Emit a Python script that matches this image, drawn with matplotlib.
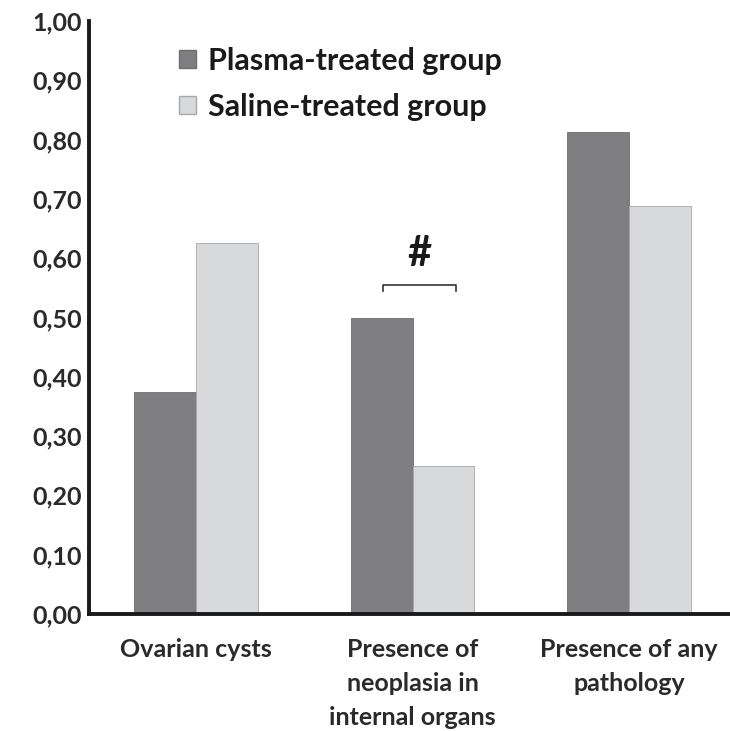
import numpy as np
import matplotlib.pyplot as plt
from matplotlib.patches import Patch

categories = ['Ovarian cysts', 'Presence of\nneoplasia in\ninternal organs', 'Presence of any\npathology']
plasma = [0.375, 0.50, 0.8125]
saline = [0.625, 0.25, 0.6875]
yticks = np.arange(0, 1.01, 0.1)
ytick_labels = ['%.2f' % v for v in yticks]
ytick_labels = [s.replace('.', ',') for s in ytick_labels]

plt.rcParams['font.family'] = ['Lato', 'DejaVu Sans']
plt.rcParams['font.weight'] = 'bold'

fig = plt.figure(figsize=(7.3, 7.31), dpi=100)
ax = fig.add_axes([89/730, 1 - 614/731, (730-89)/730, (614-21)/731])

x = np.arange(len(categories))
w = 0.285
dark = '#7f7f81'
light = '#d8d9db'
ax.bar(x - w/2, plasma, w, color=dark, edgecolor='#6f6f71', linewidth=0.6)
ax.bar(x + w/2, saline, w, color=light, edgecolor='#a8a8aa', linewidth=0.6)

ax.set_xlim(-0.495, 2.466)
ax.set_ylim(0, 1.0)
ax.set_yticks(yticks)
ax.set_yticklabels(ytick_labels, fontsize=18, fontweight='bold', color='#2a2a2a')
ax.set_xticks(x)
ax.set_xticklabels(categories, fontsize=18, fontweight='bold', color='#2a2a2a', linespacing=1.6)
ax.tick_params(length=0)
ax.tick_params(axis='y', pad=5)
ax.tick_params(axis='x', pad=17)
for s in ['top', 'right']:
    ax.spines[s].set_visible(False)
for s in ['left', 'bottom']:
    ax.spines[s].set_linewidth(2.8)
    ax.spines[s].set_color('#1a1a1a')

# significance bracket over the neoplasia group
bx0, bx1, by = 1 - 0.135, 1 + 0.2, 0.555
ax.plot([bx0, bx0, bx1, bx1], [by - 0.01, by, by, by - 0.01], color='#333333', lw=1.2)
ax.text((bx0 + bx1) / 2, by + 0.02, '#', ha='center', va='bottom', fontsize=30, fontweight='bold', color='#1a1a1a')

handles = [Patch(facecolor=dark, edgecolor='#6f6f71'), Patch(facecolor=light, edgecolor='#a8a8aa')]
leg = ax.legend(handles, ['Plasma-treated group', 'Saline-treated group'], loc='upper left',
                bbox_to_anchor=(0.098, 1.003), frameon=False, fontsize=22,
                handlelength=0.55, handleheight=0.55, handletextpad=0.4, labelspacing=0.6)
for t in leg.get_texts():
    t.set_fontweight('bold')
    t.set_color('#1a1a1a')

plt.savefig('out.png', dpi=100)
